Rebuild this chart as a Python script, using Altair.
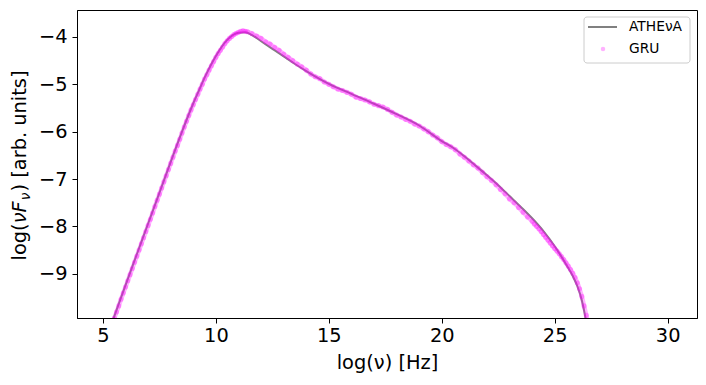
import altair as alt
import pandas as pd

# ---------------- data ----------------
series_names = ["ATHEνA", "GRU"]
x_ticks = [5, 10, 15, 20, 25, 30]
y_ticks = [-9, -8, -7, -6, -5, -4]
y_title_parts = ["log(", "νF", "ν", ") [arb. units]"]
x_title = "log(ν) [Hz]"

athena_x = [5.0, 5.5, 6.0, 6.5, 7.0, 7.5, 8.0, 8.5, 9.0, 9.25, 9.5, 10.0, 10.5, 11.0, 11.3,
            11.6, 12.0, 12.5, 13.0, 13.5, 14.0, 15.0, 16.0, 17.0, 18.0, 19.0, 20.0,
            20.5, 21.0, 21.5, 22.0, 22.5, 23.0, 23.5, 24.0, 24.5, 25.0, 25.5, 25.8,
            26.0, 26.2, 26.35, 26.5]
athena_y = [-10.55, -9.90, -9.24, -8.59, -7.94, -7.29, -6.64, -6.00, -5.40, -5.13, -4.86,
            -4.40, -4.06, -3.91, -3.90, -3.96, -4.09, -4.25, -4.41, -4.57, -4.72,
            -4.99, -5.20, -5.41, -5.63, -5.87, -6.20, -6.34, -6.52, -6.72, -6.92,
            -7.13, -7.36, -7.59, -7.83, -8.10, -8.42, -8.80, -9.05, -9.26, -9.56,
            -9.90, -10.40]

gru_x = [5.4, 5.5, 5.6, 5.7, 5.8, 5.9, 6.0, 6.1, 6.2, 6.3, 6.4, 6.5, 6.6, 6.7, 6.8,
         6.9, 7.0, 7.1, 7.2, 7.3, 7.4, 7.5, 7.6, 7.7, 7.8, 7.9, 8.0, 8.1, 8.2, 8.3,
         8.4, 8.5, 8.6, 8.7, 8.8, 8.9, 9.0, 9.1, 9.2, 9.3, 9.4, 9.5, 9.6, 9.7, 9.8,
         9.9, 10.0, 10.1, 10.2, 10.3, 10.4, 10.5, 10.6, 10.7, 10.8, 10.9, 11.0, 11.1,
         11.2, 11.3, 11.4, 11.6, 11.8, 12.0, 12.2, 12.4, 12.6, 12.8, 13.0, 13.2, 13.4,
         13.6, 13.8, 14.0, 14.2, 14.4, 14.6, 14.8, 15.0, 15.2, 15.4, 15.6, 15.8, 16.0,
         16.2, 16.4, 16.6, 16.8, 17.0, 17.2, 17.4, 17.6, 17.8, 18.0, 18.2, 18.4, 18.6,
         18.8, 19.0, 19.2, 19.4, 19.6, 19.8, 20.0, 20.2, 20.4, 20.6, 20.8, 21.0, 21.2,
         21.4, 21.6, 21.8, 22.0, 22.2, 22.4, 22.6, 22.8, 23.0, 23.2, 23.4, 23.6, 23.8,
         24.0, 24.1, 24.2, 24.3, 24.4, 24.5, 24.6, 24.7, 24.8, 24.9, 25.0, 25.1, 25.2,
         25.3, 25.4, 25.5, 25.6, 25.7, 25.8, 25.9, 26.0, 26.1, 26.2, 26.3, 26.4, 26.5]
gru_y = [-10.07, -9.94, -9.81, -9.68, -9.54, -9.41, -9.28, -9.15, -9.02, -8.89, -8.76,
         -8.63, -8.50, -8.37, -8.24, -8.11, -7.98, -7.85, -7.72, -7.58, -7.45, -7.32,
         -7.19, -7.06, -6.93, -6.80, -6.67, -6.54, -6.41, -6.29, -6.16, -6.03, -5.90,
         -5.78, -5.66, -5.54, -5.43, -5.32, -5.21, -5.10, -5.00, -4.89, -4.80, -4.70,
         -4.61, -4.52, -4.43, -4.35, -4.28, -4.21, -4.14, -4.08, -4.03, -3.99, -3.95,
         -3.92, -3.90, -3.88, -3.87, -3.88, -3.89, -3.93, -3.98, -4.03, -4.10, -4.15,
         -4.22, -4.28, -4.36, -4.43, -4.50, -4.57, -4.63, -4.70, -4.78, -4.84, -4.88,
         -4.95, -5.00, -5.05, -5.10, -5.13, -5.17, -5.21, -5.27, -5.30, -5.33, -5.37,
         -5.42, -5.45, -5.48, -5.53, -5.59, -5.65, -5.69, -5.74, -5.78, -5.84, -5.88,
         -5.94, -6.00, -6.07, -6.13, -6.21, -6.27, -6.32, -6.38, -6.47, -6.54, -6.62,
         -6.70, -6.77, -6.86, -6.95, -7.03, -7.12, -7.22, -7.31, -7.42, -7.50, -7.60,
         -7.70, -7.80, -7.89, -7.95, -8.00, -8.05, -8.11, -8.17, -8.23, -8.29, -8.35,
         -8.41, -8.47, -8.52, -8.58, -8.64, -8.70, -8.77, -8.84, -8.91, -8.99, -9.08,
         -9.19, -9.32, -9.48, -9.68, -9.88, -10.10]

# ---------------- tables ----------------
athena = pd.DataFrame({"x": athena_x, "y": athena_y})
gru = pd.DataFrame({"x": gru_x, "y": gru_y})
one = pd.DataFrame({"k": [0]})

FONT = "DejaVu Sans"
GRAY = "#808080"
MAG = "#ff00ff"

xs = alt.Scale(domain=[3.85, 31.3], nice=False, zero=False)
ys = alt.Scale(domain=[-9.936, -3.43], nice=False, zero=False)

X = alt.X("x:Q", scale=xs, axis=alt.Axis(
    values=x_ticks, title=x_title, grid=False, tickSize=5, labelPadding=3,
    labelFontSize=19.4, titleFontSize=19.4, titleFontWeight="normal",
    titleY=50, titleBaseline="alphabetic", labelFlush=False))
Y = alt.Y("y:Q", scale=ys, axis=alt.Axis(
    values=y_ticks, title=None, grid=False, tickSize=5, labelPadding=5,
    labelFontSize=19.4))

ath_line = alt.Chart(athena).mark_line(color=GRAY, strokeWidth=2, clip=True,
                                       interpolate="monotone").encode(X, Y)
gru_line = alt.Chart(gru).mark_line(color=MAG, strokeWidth=4.5, opacity=0.3, clip=True,
                                    interpolate="monotone").encode(X, Y)
gru_pts = alt.Chart(gru).mark_circle(color=MAG, size=26, opacity=0.32, clip=True).encode(X, Y)

# legend (upper right, matplotlib style)
leg_box = alt.Chart(one).mark_rect(fill="white", fillOpacity=0.8, stroke="#cccccc",
                                   strokeWidth=1, cornerRadius=3).encode(
    x=alt.value(507), x2=alt.value(613), y=alt.value(7), y2=alt.value(53))
leg_line = alt.Chart(one).mark_rule(color=GRAY, strokeWidth=2).encode(
    x=alt.value(511), x2=alt.value(540), y=alt.value(17))
leg_pt = alt.Chart(one).mark_circle(color=MAG, size=20, opacity=0.3).encode(
    x=alt.value(526), y=alt.value(39))
leg_t1 = alt.Chart(one).mark_text(text=series_names[0], font=FONT, fontSize=13.8,
                                  align="left", baseline="middle", color="black").encode(
    x=alt.value(552), y=alt.value(17))
leg_t2 = alt.Chart(one).mark_text(text=series_names[1], font=FONT, fontSize=13.8,
                                  align="left", baseline="middle", color="black").encode(
    x=alt.value(552), y=alt.value(39))

# y-axis title built from pieces (subscript)
ty = dict(angle=270, align="left", baseline="alphabetic", color="black", font=FONT)
yt1 = alt.Chart(one).mark_text(text=y_title_parts[0], fontSize=19.4, **ty).encode(
    x=alt.value(-51), y=alt.value(250.5))
yt2 = alt.Chart(one).mark_text(text=y_title_parts[1], fontSize=19.4, fontStyle="italic", **ty).encode(
    x=alt.value(-51), y=alt.value(213.3))
yt3 = alt.Chart(one).mark_text(text=y_title_parts[2], fontSize=13.6, fontStyle="italic", **ty).encode(
    x=alt.value(-47), y=alt.value(190.2))
yt4 = alt.Chart(one).mark_text(text=y_title_parts[3], fontSize=19.4, **ty).encode(
    x=alt.value(-51), y=alt.value(181.5))

chart = alt.layer(
    ath_line, gru_line, gru_pts, leg_box, leg_line, leg_pt, leg_t1, leg_t2,
    yt1, yt2, yt3, yt4
).properties(
    width=620, height=308,
    autosize=alt.AutoSizeParams(type="none"),
    padding={"left": 69, "top": 2, "right": 1, "bottom": 59},
).configure_view(
    stroke="black", strokeWidth=1
).configure_axis(
    domainColor="black", domainWidth=1, tickColor="black", tickWidth=1,
    labelColor="black", titleColor="black", labelFont=FONT, titleFont=FONT
)

chart.save("out.html", embed_options={"renderer": "svg", "actions": False})
